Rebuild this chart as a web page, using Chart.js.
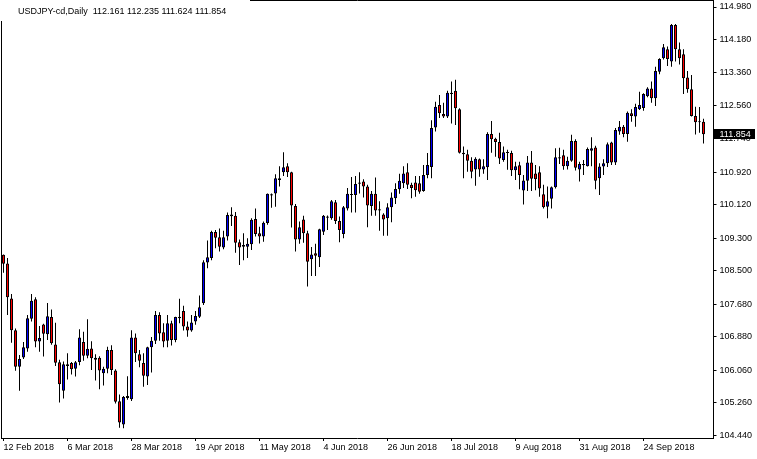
<!DOCTYPE html>
<html>
<head>
<meta charset="utf-8">
<script src="https://cdn.jsdelivr.net/npm/chart.js@4.4.1/dist/chart.umd.min.js"></script>
<style>
    html, body { margin: 0; padding: 0; background: #ffffff; }
    #chart_box { width: 757px; height: 459px; }
</style>
</head>
<body>
<div id="chart_box"><canvas id="price_canvas" width="757" height="459"></canvas></div>
<script>
const symbol_title = "USDJPY-cd,Daily";
const first_day = "2018-02-12";
const empty_slots = 2;
const label_every = 16;

const opens = [
    108.89,108.68,107.82,107.04,106.14,106.37,106.59,107.32,107.80,106.76,
    107.18,106.94,107.36,106.69,106.25,105.55,106.20,106.23,106.09,106.26,
    106.75,106.41,106.59,106.31,106.36,105.98,106.09,106.55,106.05,105.29,
    104.72,105.42,105.34,106.86,106.45,106.23,105.90,106.62,106.78,107.41,
    106.99,106.78,107.21,106.80,107.33,107.51,107.13,107.03,107.25,107.37,
    107.70,108.70,108.81,109.45,109.32,109.07,109.34,109.84,109.85,109.20,
    109.09,109.09,109.15,109.77,109.42,109.34,109.67,110.35,110.40,110.77,
    110.92,111.07,110.92,110.09,109.27,109.76,109.42,108.78,108.93,108.83,
    109.46,109.83,109.79,110.18,109.72,109.40,110.03,110.38,110.36,110.67,
    110.69,110.57,110.09,110.39,109.98,109.88,109.79,110.06,110.28,110.50,
    110.65,110.92,110.61,110.67,110.65,110.46,110.85,111.05,112.02,112.57,
    112.35,112.29,112.84,112.92,112.47,111.40,111.36,111.20,110.99,111.24,
    110.99,111.04,111.86,111.74,111.66,111.22,111.41,111.39,110.97,111.09,
    110.47,110.71,111.16,110.89,110.92,110.38,110.07,110.27,110.55,111.29,
    111.34,111.07,111.20,111.69,110.99,111.12,111.07,111.45,111.53,110.77,
    111.06,111.14,111.65,111.16,111.92,112.04,111.86,112.37,112.29,112.47,
    112.50,112.79,112.98,112.74,113.39,113.72,113.94,113.64,114.54,113.94,
    113.82,113.25,112.96,112.30,112.15,112.161
];
const highs = [
    108.90,108.81,107.93,107.08,106.43,106.75,107.41,107.93,107.85,107.14,
    107.20,107.71,107.55,107.22,106.31,106.27,106.47,106.26,106.28,107.06,
    107.00,107.31,106.77,106.45,106.40,106.14,106.63,106.67,106.08,105.46,
    105.42,105.91,107.04,106.96,106.55,106.47,106.63,106.87,107.51,107.48,
    107.21,107.41,107.27,107.37,107.81,107.64,107.25,107.41,107.51,107.89,
    108.76,109.24,109.48,109.50,109.54,109.48,109.93,110.06,109.94,109.27,
    109.42,109.30,109.79,110.03,109.58,109.71,110.40,110.40,110.87,111.07,
    111.41,111.14,110.93,110.14,109.71,109.85,109.48,109.08,109.16,109.53,
    109.87,109.86,110.24,110.24,109.83,110.09,110.53,110.80,110.83,110.92,
    110.75,110.61,110.46,110.79,110.21,109.91,110.16,110.42,110.65,110.88,
    111.07,111.14,110.66,110.83,110.83,111.10,111.39,112.20,112.65,112.82,
    112.63,112.92,113.15,113.19,112.49,111.55,111.47,111.29,111.29,111.26,
    111.24,111.90,112.18,111.77,111.89,111.55,111.47,111.45,111.18,111.18,
    110.85,111.32,111.44,111.10,111.07,110.61,110.57,110.57,111.51,111.52,
    111.47,111.30,111.84,111.73,111.18,111.22,111.53,111.78,111.57,111.14,
    111.24,111.65,111.67,112.01,112.18,112.08,112.41,112.47,112.60,112.90,
    112.86,113.01,113.15,113.51,113.72,114.07,114.01,114.56,114.56,114.11,
    113.94,113.41,113.31,112.53,112.52,112.235
];
const lows = [
    108.45,107.41,106.73,106.04,105.55,106.33,106.51,107.25,106.62,106.51,
    106.39,106.80,106.68,106.16,105.26,105.36,105.83,105.95,105.90,106.18,
    106.29,106.35,106.06,105.80,105.59,105.68,105.98,105.94,105.24,104.64,
    104.63,105.33,105.30,106.26,106.13,105.65,105.69,106.00,106.70,106.78,
    106.62,106.62,106.66,106.74,107.21,107.03,106.88,107.00,107.17,107.34,
    107.66,108.56,108.76,109.05,108.97,109.03,109.24,109.60,108.94,108.64,
    108.76,108.81,109.01,109.34,109.17,109.21,109.63,110.05,110.07,110.57,
    110.83,110.80,109.56,108.97,109.16,109.19,108.11,108.37,108.37,108.59,
    109.38,109.50,109.75,109.65,109.20,109.30,109.98,109.93,109.93,110.40,
    110.30,109.57,109.85,109.85,109.48,109.36,109.36,109.69,110.14,110.39,
    110.53,110.51,110.28,110.32,110.39,110.44,110.77,110.77,111.92,112.25,
    112.25,112.25,112.12,112.08,111.38,110.77,110.93,110.77,110.59,110.81,
    110.88,110.73,111.40,111.30,111.12,111.18,110.98,110.83,110.73,110.50,
    110.13,110.46,110.46,110.48,110.32,110.03,109.79,110.03,110.52,111.12,
    110.98,110.99,111.18,110.96,110.69,110.85,111.06,111.07,110.50,110.36,
    110.85,111.05,111.10,111.10,111.84,111.78,111.67,112.16,112.04,112.45,
    112.43,112.76,112.63,112.55,113.33,113.69,113.53,113.51,113.64,113.57,
    112.84,112.87,112.29,111.85,111.89,111.624
];
const closes = [
    108.67,107.85,107.04,106.14,106.33,106.62,107.33,107.76,106.76,106.85,
    106.95,107.38,106.72,106.24,105.71,106.20,106.16,106.08,106.25,106.86,
    106.41,106.58,106.35,106.36,106.05,106.09,106.55,106.06,105.28,104.77,
    105.40,105.37,106.86,106.47,106.29,105.92,106.62,106.78,107.41,106.96,
    106.76,107.21,106.80,107.36,107.37,107.13,107.03,107.23,107.39,107.60,
    108.71,108.83,109.45,109.31,109.09,109.32,109.87,109.88,109.19,109.07,
    109.13,109.16,109.75,109.40,109.34,109.68,110.39,110.38,110.77,110.73,
    111.04,110.92,110.10,109.27,109.57,109.42,108.72,108.90,108.87,109.52,
    109.85,109.80,110.21,109.72,109.50,110.06,110.39,110.36,110.63,110.64,
    110.57,110.10,110.39,109.98,110.01,109.76,110.06,110.30,110.51,110.71,
    110.89,110.61,110.53,110.48,110.44,110.85,111.10,112.01,112.53,112.37,
    112.29,112.87,112.87,112.49,111.40,111.36,111.20,110.93,111.25,110.99,
    111.07,111.86,111.73,111.66,111.26,111.41,111.39,110.97,111.07,110.85,
    110.72,111.16,110.76,110.75,110.52,110.06,110.21,110.55,111.29,111.26,
    111.07,111.20,111.69,111.03,111.12,111.09,111.49,111.51,110.71,111.06,
    111.14,111.61,111.16,111.96,112.04,111.86,112.38,112.30,112.52,112.57,
    112.84,112.98,112.74,113.41,113.70,113.99,113.70,114.54,113.94,113.72,
    113.23,112.96,112.30,112.15,112.16,111.854
];
const price_ticks = ["114.980","114.180","113.360","112.560","111.740","110.920","110.120",
                     "109.300","108.500","107.680","106.880","106.060","105.260","104.440"];
const price_min = 104.390;
const price_max = 115.152;

const month_names = ["Jan","Feb","Mar","Apr","May","Jun","Jul","Aug","Sep","Oct","Nov","Dec"];
const up_color = "#0000ff";
const down_color = "#ff0000";
const axis_font = {family: "'Liberation Sans', Arial, sans-serif", size: 9};

document.addEventListener("DOMContentLoaded", ()=>{
    initialize_page();
});

function trading_days(start, count){
    let days = [];
    let d = new Date(start + "T00:00:00Z");
    while(days.length < count){
        let wd = d.getUTCDay();
        if(wd != 0 && wd != 6){
            days.push(d.getUTCDate() + " " + month_names[d.getUTCMonth()] + " " + d.getUTCFullYear());
        }
        d.setUTCDate(d.getUTCDate() + 1);
    }
    return days;
}

const decor_plugin = {
    id: "decor",
    beforeDraw(chart){
        let ctx = chart.ctx;
        ctx.save();
        ctx.fillStyle = "#ffffff";
        ctx.fillRect(0, 0, chart.width, chart.height);
        ctx.restore();
    },
    afterDraw(chart){
        let ctx = chart.ctx;
        let area = chart.chartArea;
        let y_scale = chart.scales.y;
        ctx.save();

        // top and left edges of the frame
        ctx.strokeStyle = "#000000";
        ctx.lineWidth = 1;
        ctx.beginPath();
        ctx.moveTo(area.left, 0.5);
        ctx.lineTo(area.right, 0.5);
        ctx.moveTo(area.left, 0);
        ctx.lineTo(area.left, area.bottom);
        ctx.stroke();

        // header text
        let n = closes.length - 1;
        let header = symbol_title + "  " + opens[n].toFixed(3) + " " + highs[n].toFixed(3) + " " +
                     lows[n].toFixed(3) + " " + closes[n].toFixed(3);
        ctx.fillStyle = "#ffffff";
        ctx.fillRect(0, 0, 250, 21);
        ctx.fillStyle = "#000000";
        ctx.font = "9px 'Liberation Sans', Arial, sans-serif";
        ctx.textBaseline = "alphabetic";
        ctx.textAlign = "left";
        ctx.fillText(header, 18, 14);

        // last price label
        let py = Math.round(y_scale.getPixelForValue(closes[n]));
        ctx.fillStyle = "#000000";
        ctx.fillRect(area.right + 0.5, py - 5, 41, 10);
        ctx.fillStyle = "#ffffff";
        ctx.textBaseline = "middle";
        ctx.fillText(closes[n].toFixed(3), area.right + 6, py + 0.5);
        ctx.restore();
    }
};

function initialize_page(){
    let canvas = document.getElementById("price_canvas");
    let labels = trading_days(first_day, opens.length);
    for(let i = 0; i < empty_slots; i++) labels.push("");

    let bodies = opens.map((o, i) => [o, closes[i]]);
    let wicks = lows.map((l, i) => [l, highs[i]]);
    let body_colors = opens.map((o, i) => closes[i] >= o ? up_color : down_color);

    new Chart(canvas, {
        type: "bar",
        data: {
            labels: labels,
            datasets: [
                {
                    label: "body",
                    data: bodies,
                    backgroundColor: body_colors,
                    borderColor: "#000000",
                    borderWidth: 1,
                    borderSkipped: false,
                    barThickness: 3,
                    minBarLength: 1,
                    inflateAmount: 0,
                    grouped: false
                },
                {
                    label: "wick",
                    data: wicks,
                    backgroundColor: "#000000",
                    borderWidth: 0,
                    barThickness: 1,
                    minBarLength: 1,
                    inflateAmount: 0,
                    grouped: false
                }
            ]
        },
        options: {
            responsive: false,
            animation: false,
            events: [],
            layout: { padding: { left: 1.5, top: 0, right: 0, bottom: 0 } },
            plugins: {
                legend: { display: false },
                tooltip: { enabled: false }
            },
            scales: {
                x: {
                    type: "category",
                    offset: true,
                    afterBuildTicks: (scale)=>{
                        scale.ticks = scale.ticks.filter(t => t.value % label_every == 0 && t.value < opens.length);
                    },
                    afterFit: (scale)=>{
                        scale.height = 21;
                        scale.paddingLeft = 0;
                        scale.paddingRight = 0;
                    },
                    grid: { drawOnChartArea: false, drawTicks: true, tickLength: 3, color: "#000000", offset: false },
                    border: { display: true, color: "#000000", width: 1 },
                    ticks: {
                        autoSkip: false, maxRotation: 0, minRotation: 0, align: "start",
                        padding: 1, color: "#000000", font: axis_font
                    }
                },
                y: {
                    type: "linear",
                    position: "right",
                    min: price_min,
                    max: price_max,
                    afterBuildTicks: (scale)=>{
                        scale.ticks = price_ticks.map(t => ({value: parseFloat(t)}));
                    },
                    afterFit: (scale)=>{
                        scale.width = 43.5;
                        scale.paddingTop = 0;
                        scale.paddingBottom = 0;
                    },
                    grid: { drawOnChartArea: false, drawTicks: true, tickLength: 3, color: "#000000" },
                    border: { display: true, color: "#000000", width: 1 },
                    ticks: {
                        padding: 3, color: "#000000", font: axis_font,
                        callback: (v)=> v.toFixed(3)
                    }
                }
            }
        },
        plugins: [decor_plugin]
    });
}
</script>
</body>
</html>
